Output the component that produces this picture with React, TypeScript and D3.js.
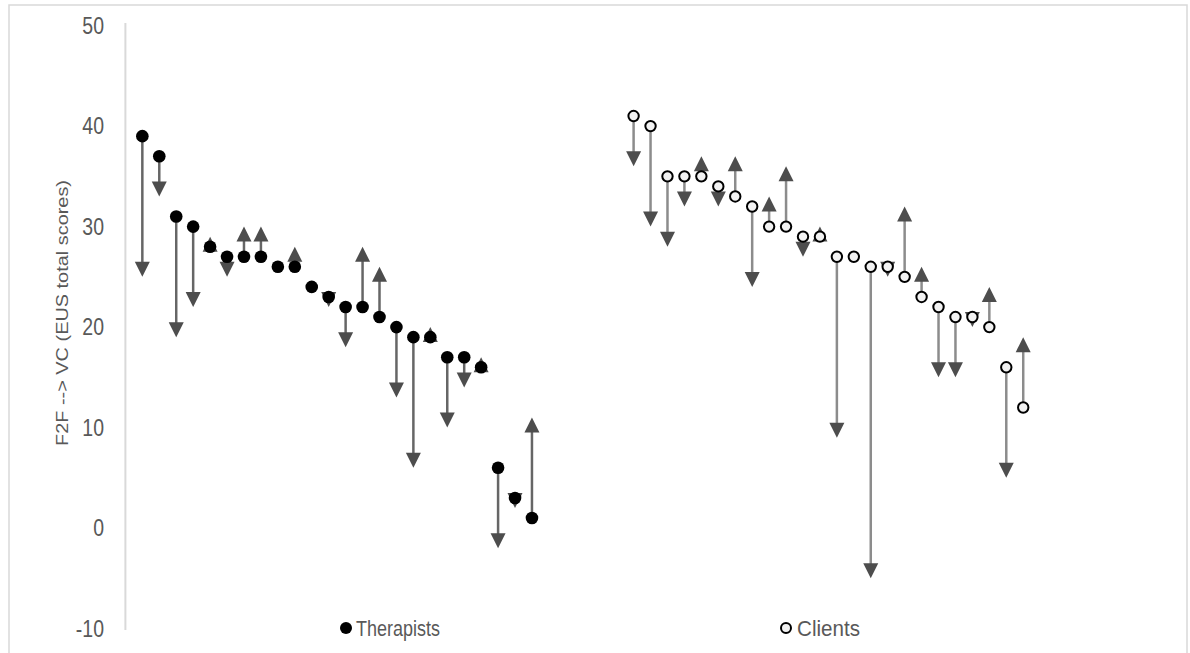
import React, { useEffect, useRef } from "react";
import * as d3 from "d3";

// EUS total scores, face-to-face (F2F) and video call (VC)
const therapistsF2F = [39, 37, 31, 30, 28, 27, 27, 27, 26, 26, 24, 23, 22, 22, 21, 20, 19, 19, 17, 17, 16, 6, 3, 1];
const therapistsVC = [25, 33, 19, 22, 29, 25, 30, 30, 26, 28, 24, 22, 18, 28, 26, 13, 6, 20, 10, 14, 17, -2, 2, 11];
const clientsF2F = [41, 40, 35, 35, 35, 34, 33, 32, 30, 30, 29, 29, 27, 27, 26, 26, 25, 23, 22, 21, 21, 20, 16, 12];
const clientsVC = [36, 30, 28, 32, 37, 32, 37, 24, 33, 36, 27, 30, 9, 27, -5, 25, 32, 26, 15, 15, 20, 24, 5, 19];
const yTicks = [-10, 0, 10, 20, 30, 40, 50];
const groups = ["Therapists", "Clients"];

const FONT = "'Liberation Sans', Arial, sans-serif";

export default function App() {
  const ref = useRef<SVGSVGElement>(null);

  useEffect(() => {
    const svg = d3.select(ref.current);
    svg.selectAll("*").remove();

    const height = 653;
    const step = 16.94;
    const x0 = 125.4;
    const stretch = 1.2; // the picture is a bit taller than wide

    const x = d3.scaleLinear().domain([0, 62]).range([x0, x0 + 62 * step]);
    const y = d3.scaleLinear().domain([-10, 50]).range([628.6, 25.6]);

    // chart border
    svg
      .append("rect")
      .attr("x", 9)
      .attr("y", 5)
      .attr("width", 1178)
      .attr("height", height + 10)
      .attr("fill", "#fff")
      .attr("stroke", "#d9d9d9")
      .attr("stroke-width", 1.5);

    // y axis line
    svg
      .append("line")
      .attr("x1", x(0))
      .attr("x2", x(0))
      .attr("y1", 23)
      .attr("y2", 630)
      .attr("stroke", "#d9d9d9")
      .attr("stroke-width", 2);

    svg
      .append("g")
      .selectAll("text")
      .data(yTicks)
      .enter()
      .append("text")
      .attr("transform", d => `translate(104, ${y(d)}) scale(1, ${stretch})`)
      .attr("dy", "0.35em")
      .attr("text-anchor", "end")
      .attr("font-family", FONT)
      .attr("font-size", 19.5)
      .attr("fill", "#595959")
      .text(d => d);

    svg
      .append("text")
      .attr("transform", `translate(68, 313) rotate(-90)`)
      .attr("text-anchor", "middle")
      .attr("font-family", FONT)
      .attr("font-size", 17)
      .attr("fill", "#595959")
      .attr("textLength", 266)
      .attr("lengthAdjust", "spacingAndGlyphs")
      .text("F2F --> VC (EUS total scores)");

    const series = [
      { name: groups[0], f2f: therapistsF2F, vc: therapistsVC, offset: 1, fill: "#000", stroke: "none", line: "#666" },
      { name: groups[1], f2f: clientsF2F, vc: clientsVC, offset: 30, fill: "#f2f2f2", stroke: "#000", line: "#8c8c8c" },
    ];

    const tri = 7.5;
    const triH = 15;

    series.forEach(s => {
      const rows = s.f2f.map((v, i) => ({ xi: i + s.offset, from: v, to: s.vc[i] }));
      const moved = rows.filter(r => r.from !== r.to);
      const g = svg.append("g");

      g.selectAll("line")
        .data(moved)
        .enter()
        .append("line")
        .attr("x1", d => x(d.xi))
        .attr("x2", d => x(d.xi))
        .attr("y1", d => y(d.from))
        .attr("y2", d => (d.to < d.from ? y(d.to) - triH + 2 : y(d.to) + triH - 2))
        .attr("stroke", s.line)
        .attr("stroke-width", 2.5);

      g.selectAll("path")
        .data(moved)
        .enter()
        .append("path")
        .attr("d", d => {
          const cx = x(d.xi);
          const ty = y(d.to);
          const by = d.to < d.from ? ty - triH : ty + triH;
          return `M${cx},${ty}L${cx - tri},${by}L${cx + tri},${by}Z`;
        })
        .attr("fill", "#4d4d4d");

      svg
        .append("g")
        .selectAll("circle")
        .data(rows)
        .enter()
        .append("circle")
        .attr("cx", d => x(d.xi))
        .attr("cy", d => y(d.from))
        .attr("r", s.stroke === "none" ? 6.3 : 5.2)
        .attr("fill", s.fill)
        .attr("stroke", s.stroke)
        .attr("stroke-width", 2);
    });

    // legend
    const legend = [
      { label: groups[0], cx: 346, tx: 356, len: 84, fill: "#000", stroke: "none" },
      { label: groups[1], cx: 786, tx: 797, len: 63, fill: "#f2f2f2", stroke: "#000" },
    ];
    legend.forEach(l => {
      svg
        .append("circle")
        .attr("cx", l.cx)
        .attr("cy", 628)
        .attr("r", l.stroke === "none" ? 6 : 5)
        .attr("fill", l.fill)
        .attr("stroke", l.stroke)
        .attr("stroke-width", 2);
      svg
        .append("text")
        .attr("transform", `translate(${l.tx}, 628) scale(1, ${stretch})`)
        .attr("dy", "0.35em")
        .attr("font-family", FONT)
        .attr("font-size", 18)
        .attr("fill", "#595959")
        .attr("textLength", l.len)
        .attr("lengthAdjust", "spacingAndGlyphs")
        .text(l.label);
    });
  }, []);

  return (
    <div style={{ position: "absolute", left: 0, top: 0 }}>
      <svg ref={ref} width={1190} height={653} style={{ display: "block" }} />
    </div>
  );
}
